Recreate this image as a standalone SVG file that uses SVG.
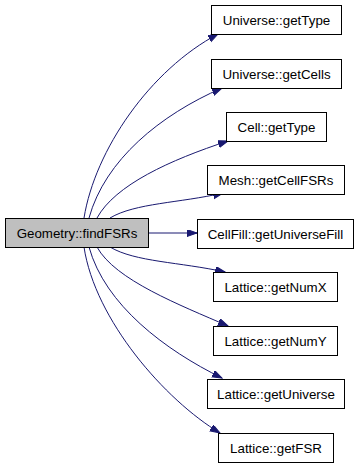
<svg xmlns="http://www.w3.org/2000/svg" width="360" height="467" viewBox="0 0 360 467">
  <style>
    .node rect { fill: #ffffff; stroke: #000000; stroke-width: 1; }
    .node.root rect { fill: #bfbfbf; }
    .node text { font-family: "Liberation Sans", Arial, sans-serif; font-size: 13.33px; fill: #000000; text-anchor: middle; }
    .edge { fill: none; stroke: #191970; stroke-width: 1; marker-end: url(#arrow); }
  </style>
  <defs>
    <marker id="arrow" markerUnits="userSpaceOnUse" markerWidth="11" markerHeight="8" refX="10" refY="3.5" orient="auto">
      <path d="M0,0 L10,3.5 L0,7 Z" fill="#191970" stroke="#191970" stroke-width="1"/>
    </marker>
  </defs>

  <g id="edges">
    <path class="edge" d="M84,218 C95,150 150,70 218,34"/>
    <path class="edge" d="M89,218 C105,160 160,115 222,88"/>
    <path class="edge" d="M97,218 C115,185 170,160 228,141"/>
    <path class="edge" d="M110,218 C135,203 180,203 223,193"/>
    <path class="edge" d="M148,233 L197,233"/>
    <path class="edge" d="M110,247 C135,262 180,262 225,272"/>
    <path class="edge" d="M97,247 C115,280 180,305 228,326"/>
    <path class="edge" d="M89,247 C105,305 165,350 222,378"/>
    <path class="edge" d="M84,247 C95,320 165,400 220,433"/>
  </g>

  <g id="node-geometry-findFSRs" class="node root">
    <rect x="5.5" y="218.5" width="143" height="29"/>
    <text x="77" y="237.5">Geometry::findFSRs</text>
  </g>
  <g id="node-universe-getType" class="node">
    <rect x="211.5" y="5.5" width="130" height="29"/>
    <text x="276.5" y="24.5">Universe::getType</text>
  </g>
  <g id="node-universe-getCells" class="node">
    <rect x="211.5" y="59.5" width="130" height="29"/>
    <text x="276.5" y="78.5">Universe::getCells</text>
  </g>
  <g id="node-cell-getType" class="node">
    <rect x="226.5" y="112.5" width="100" height="29"/>
    <text x="276.5" y="131.5">Cell::getType</text>
  </g>
  <g id="node-mesh-getCellFSRs" class="node">
    <rect x="207.5" y="165.5" width="137" height="29"/>
    <text x="276" y="184.5">Mesh::getCellFSRs</text>
  </g>
  <g id="node-cellfill-getUniverseFill" class="node">
    <rect x="197.5" y="219.5" width="156" height="29"/>
    <text x="275.5" y="238.5">CellFill::getUniverseFill</text>
  </g>
  <g id="node-lattice-getNumX" class="node">
    <rect x="213.5" y="272.5" width="124" height="29"/>
    <text x="275.5" y="291.5">Lattice::getNumX</text>
  </g>
  <g id="node-lattice-getNumY" class="node">
    <rect x="213.5" y="326.5" width="124" height="29"/>
    <text x="275.5" y="345.5">Lattice::getNumY</text>
  </g>
  <g id="node-lattice-getUniverse" class="node">
    <rect x="207.5" y="379.5" width="137" height="29"/>
    <text x="276" y="398.5">Lattice::getUniverse</text>
  </g>
  <g id="node-lattice-getFSR" class="node">
    <rect x="218.5" y="433.5" width="115" height="29"/>
    <text x="276" y="452.5">Lattice::getFSR</text>
  </g>
</svg>
